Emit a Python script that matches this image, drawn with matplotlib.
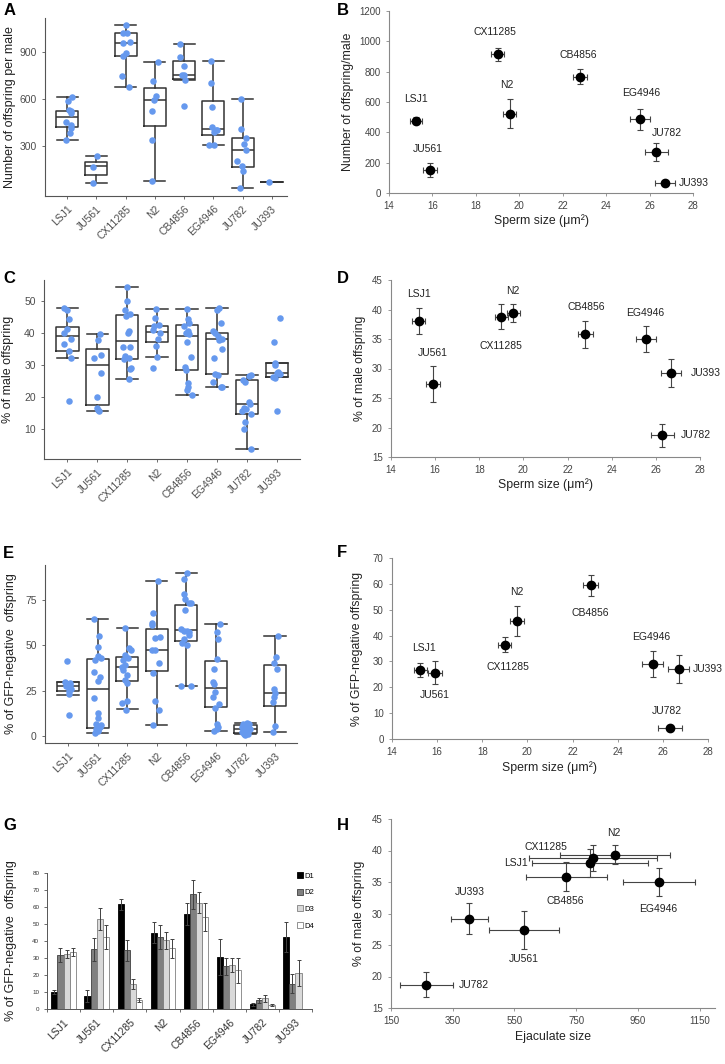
import matplotlib
matplotlib.use("Agg")
import matplotlib.pyplot as plt
import numpy as np

plt.rcParams['font.family'] = ['Liberation Sans', 'DejaVu Sans']

W, H = 725, 1064
strains = ["LSJ1", "JU561", "CX11285", "N2", "CB4856", "EG4946", "JU782", "JU393"]

# ---------------- Panel A: offspring per male (box: whislo, q1, med, q3, whishi) -------------
A_box = [(337, 418, 482, 525, 611), (63, 114, 170, 198, 234), (675, 872, 956, 1018, 1071),
         (78, 427, 592, 667, 836), (720, 729, 754, 840, 947), (307, 369, 410, 587, 840),
         (31, 168, 273, 348, 596), (69, 69, 69, 69, 69)]
A_pts = [[611, 587, 529, 521, 508, 455, 431, 412, 384, 337],
         [234, 166, 65],
         [1069, 1022, 1018, 964, 956, 891, 874, 748, 673],
         [836, 712, 620, 594, 519, 337, 76],
         [947, 866, 812, 754, 750, 722, 553],
         [840, 701, 545, 418, 401, 401, 386, 307, 307],
         [596, 408, 348, 311, 273, 206, 174, 140, 31],
         [69]]
A_jit = [[13, 1, 5, 11, 11, -4, 10, 10, 8, -5], [1, -10, -10],
         [1, -9, 3, 13, -9, 1, -9, -11, 11], [10, -5, 2, -2, -8, -8, -8],
         [-13, -11, -1, -7, -1, 3, 1], [-8, -8, -3, -3, 7, 12, 3, -13, 3],
         [-5, -6, 10, 4, 10, -16, -1, 0, -9], [-7]]

# ---------------- Panel C: % male offspring -------------
C_box = [(32.2, 34.2, 38.9, 41.9, 47.9), (15.6, 17.4, 29.8, 35.1, 39.6), (25.5, 31.9, 37.6, 45.7, 54.4),
         (32.4, 37.1, 40.2, 42.2, 47.3), (20.7, 28.3, 39.1, 42.5, 47.4), (23.1, 27.0, 38.1, 39.8, 47.9),
         (3.6, 14.6, 17.9, 25.2, 26.9), (26.1, 26.1, 27.5, 30.7, 30.7)]
C_pts = [[47.9, 47.2, 44.3, 41.2, 39.8, 38.2, 36.5, 34.2, 32.2, 18.8],
         [39.6, 37.9, 33.2, 32.0, 27.4, 20.0, 16.4, 15.9, 15.7],
         [54.4, 49.9, 47.1, 45.8, 45.3, 40.5, 40.0, 35.7, 35.7, 32.8, 32.0, 31.7, 28.9, 28.6, 25.5],
         [47.3, 44.7, 42.4, 42.0, 40.9, 40.1, 38.1, 35.9, 32.3, 29.0],
         [47.4, 44.2, 43.1, 42.2, 40.5, 40.0, 39.5, 37.2, 32.5, 29.2, 28.4, 24.4, 23.2, 22.2, 20.7],
         [47.9, 47.0, 43.0, 40.5, 39.9, 38.9, 38.2, 37.7, 35.1, 32.0, 27.1, 26.8, 24.5, 23.2, 23.1],
         [26.9, 26.5, 25.3, 24.5, 18.4, 17.7, 16.6, 16.2, 15.5, 14.6, 12.3, 10.1, 3.6],
         [44.6, 37.0, 30.6, 30.0, 27.7, 27.4, 27.2, 26.2, 25.9, 15.6]]
C_jit = [[-10, 0, 6, -2, -9, 10, -9, 6, 10, 6], [8, 1, 10, -10, 10, 0, -2, 3, 6],
         [0, -2, -6, 8, -4, 4, 2, -12, 8, -6, 4, -10, 11, 8, 4],
         [-4, -6, 5, -9, -12, 8, 1, -4, 0, -14],
         [-1, 3, 6, -9, 4, -3, 7, -1, 11, -5, -3, 4, 3, -1, 14],
         [7, -1, 11, -11, -5, 3, 14, 7, 14, -9, -5, 3, -13, 11, 14],
         [12, 7, -11, -5, 7, 9, -10, -4, -15, 12, -6, -9, 12],
         [9, -10, -5, -7, 3, 1, 10, -11, -5, 1]]

# ---------------- Panel E: % GFP-negative offspring -------------
E_box = [(22.6, 25.0, 27.6, 30.0, 30.0), (1.8, 4.8, 26.1, 42.6, 64.5), (14.9, 30.3, 38.1, 43.8, 59.4),
         (6.4, 35.8, 47.4, 58.8, 85.5), (27.8, 52.4, 58.3, 72.2, 90.1), (3.0, 16.2, 26.7, 41.5, 61.8),
         (1.1, 1.8, 4.2, 6.3, 7.4), (2.6, 16.5, 23.7, 39.5, 55.1)]
E_pts = [[41.2, 30.0, 29.1, 28.5, 28.1, 27.6, 26.7, 25.8, 25.0, 23.5, 11.6],
         [64.5, 55.3, 48.9, 44.3, 43.0, 42.0, 35.5, 32.7, 30.7, 21.0, 13.0, 10.0, 6.6, 6.1, 5.0, 4.0, 3.5, 2.9, 2.0],
         [59.4, 48.7, 47.4, 44.7, 43.2, 41.9, 39.5, 38.3, 36.4, 33.8, 30.9, 29.4, 19.5, 18.4, 14.7],
         [85.5, 67.6, 62.5, 61.0, 54.8, 53.9, 47.4, 47.4, 40.1, 35.0, 19.5, 14.3, 6.4],
         [90.1, 86.6, 78.3, 75.4, 73.2, 73.2, 69.5, 59.0, 58.1, 57.8, 57.5, 55.7, 53.3, 51.1, 50.2, 27.8, 27.8],
         [61.8, 57.4, 53.3, 42.5, 37.3, 30.0, 29.0, 24.5, 21.5, 18.0, 15.5, 7.0, 5.0, 4.0, 3.0],
         [7.4, 7.0, 6.5, 6.0, 5.5, 5.0, 4.5, 4.0, 3.5, 3.0, 2.5, 2.0, 1.5, 1.0, 0.8],
         [55.1, 43.8, 40.4, 37.3, 26.3, 23.9, 21.7, 19.1, 5.7, 2.6]]
E_jit = [[-4, -10, 6, 0, 6, -6, 2, 8, 4, 4, 2],
         [-12, 3, 2, 0, 10, -8, -10, 6, 0, -10, 2, 2, -6, 10, 6, -4, 2, 0, -7],
         [-7, 6, 10, -7, 1, -14, -8, -16, -12, 0, -6, 0, 0, -16, -4],
         [5, -10, -15, -13, 10, -5, -15, -5, 7, -11, -5, 7, -10],
         [2, -7, -7, -4, 9, 13, -5, -15, -7, 1, 7, 9, -7, -14, 1, -15, 13],
         [12, 2, 5, 2, -5, -8, -6, -3, -10, 9, -2, 4, 7, 2, -6],
         [3, -8, 10, -3, 6, -12, 1, 12, -6, 8, -10, 4, -4, 6, -1],
         [9, 3, -3, 7, -3, 1, -3, -5, 1, -7]]

# ---------------- Panel G: bars by day -------------
days = ["D1", "D2", "D3", "D4"]
G_mean = [[10.0, 7.5, 61.6, 44.9, 56.1, 30.6, 2.7, 42.5],
          [31.8, 35.1, 34.5, 42.4, 67.6, 25.1, 5.1, 14.9],
          [32.2, 53.1, 14.9, 40.4, 62.5, 26.1, 6.3, 21.4],
          [33.5, 42.5, 5.5, 35.7, 54.1, 22.7, 2.4, 0.0]]
G_err = [[1.2, 3.5, 3.3, 6.1, 6.4, 10.8, 1.0, 8.7],
         [4.3, 6.9, 6.3, 7.2, 8.5, 5.1, 1.6, 5.7],
         [2.4, 6.5, 2.9, 4.9, 6.3, 4.1, 2.0, 7.6],
         [2.3, 7.1, 1.2, 5.5, 8.4, 7.3, 0.8, 0.0]]

# ---------------- Scatter panels -------------
sperm = [15.25, 15.9, 19.0, 19.55, 22.8, 25.55, 26.3, 26.7]
sperm_err = [0.28, 0.32, 0.29, 0.3, 0.33, 0.47, 0.53, 0.45]
off_mean = [476, 150, 914, 524, 768, 486, 269, 64]
off_err = [22, 47, 45, 96, 48, 70, 60, 8]
male_mean = [38.0, 27.35, 38.8, 39.35, 35.8, 35.0, 18.7, 29.2]
male_err = [2.2, 3.0, 2.1, 1.5, 2.3, 2.2, 1.95, 2.4]
gfp_mean = [26.6, 25.7, 36.5, 45.7, 59.4, 29.1, 4.1, 26.9]
gfp_err = [2.6, 4.6, 2.8, 5.8, 4.2, 5.1, 0.5, 5.4]
ejac = [795, 581, 805, 876, 718, 1018, 265, 404]
ejac_err = [187, 115, 207, 177, 132, 116, 85, 60]

fig = plt.figure(figsize=(W / 100, H / 100), dpi=100)
fig.patch.set_facecolor('white')


def add_ax(l, t, r, b):
    return fig.add_axes([l / W, 1 - b / H, (r - l) / W, (b - t) / H])


def set_ylabel_px(ax, text, px, l, r, size):
    ax.set_ylabel(text, fontsize=size, va='center', ha='center', color='#222222')
    ax.yaxis.set_label_coords((px - l) / (r - l), 0.5)


def set_xlabel_px(ax, text, py, t, b, size):
    ax.set_xlabel(text, fontsize=size, va='center', ha='center', color='#222222')
    ax.xaxis.set_label_coords(0.5, 1 - (py - t) / (b - t))


BOXC = '#333333'
PTC = '#6699EE'


def box_panel(rect, box, pts, jit, ylim, xlim, yticks, ylabel, ylabel_px, spacing):
    l, t, r, b = rect
    ax = add_ax(*rect)
    stats = []
    for s in box:
        stats.append(dict(whislo=s[0], q1=s[1], med=s[2], q3=s[3], whishi=s[4]))
    lp = dict(color=BOXC, linewidth=1.1)
    ax.bxp(stats, positions=range(8), widths=0.75, capwidths=0.72, showfliers=False,
           boxprops=lp, whiskerprops=lp, capprops=lp, medianprops=lp, zorder=2)
    for i in range(8):
        xs = [i + j / spacing for j in jit[i]]
        ax.scatter(xs, pts[i], s=22, color=PTC, zorder=3, linewidths=0)
    ax.set_xlim(*xlim)
    ax.set_ylim(*ylim)
    ax.set_yticks(yticks)
    ax.set_xticks(range(8))
    ax.set_xticklabels(strains, rotation=45, ha='right', rotation_mode='anchor', fontsize=7.5,
                       color='#4d4d4d')
    ax.tick_params(axis='y', labelsize=7.5, labelcolor='#4d4d4d', length=2.5, color='#555555', width=0.6)
    ax.tick_params(axis='x', length=2.5, color='#555555', width=0.6, pad=3)
    for sp in ['top', 'right']:
        ax.spines[sp].set_visible(False)
    for sp in ['left', 'bottom']:
        ax.spines[sp].set_color('#555555')
        ax.spines[sp].set_linewidth(0.8)
    set_ylabel_px(ax, ylabel, ylabel_px, l, r, 9)
    return ax


box_panel((45, 18, 287, 196), A_box, A_pts, A_jit, (-20, 1115), (-0.76, 7.52), [300, 600, 900],
          "Number of offspring per male", 10, 88.0)
box_panel((44, 280, 300, 459), C_box, C_pts, C_jit, (0.6, 56.5), (-0.78, 7.77), [10, 20, 30, 40, 50],
          "% of male offspring", 8.5, 89.7)
box_panel((45, 565, 297, 743), E_box, E_pts, E_jit, (-3.7, 94.3), (-0.78, 7.74), [0, 25, 50, 75],
          "% of GFP-negative  offspring", 11, 88.7)


def scatter_panel(rect, x, xe, y, ye, xlim, ylim, xticks, yticks, xlabel, ylabel, ylabel_px, xlabel_py,
                  offsets):
    l, t, r, b = rect
    ax = add_ax(*rect)
    ax.errorbar(x, y, xerr=xe, yerr=ye, fmt='o', color='black', ms=6, ecolor='#444444',
                elinewidth=0.8, capsize=2, capthick=0.8, zorder=3)
    for i, name in enumerate(strains):
        dx, dy = offsets[i]
        ax.annotate(name, (x[i], y[i]), xytext=(dx, dy), textcoords='offset pixels',
                    ha='center', va='center', fontsize=7.5, color='#222222')
    ax.set_xlim(*xlim)
    ax.set_ylim(*ylim)
    ax.set_xticks(xticks)
    ax.set_yticks(yticks)
    ax.tick_params(labelsize=7, labelcolor='#444444', length=2.5, color='#888888', width=0.6)
    for sp in ['top', 'right']:
        ax.spines[sp].set_visible(False)
    for sp in ['left', 'bottom']:
        ax.spines[sp].set_color('#888888')
        ax.spines[sp].set_linewidth(0.8)
    set_ylabel_px(ax, ylabel, ylabel_px, l, r, 8.8)
    set_xlabel_px(ax, xlabel, xlabel_py, t, b, 8.8)
    return ax


sperm_lbl = "Sperm size (\u03bcm\u00b2)"
scatter_panel((389, 11, 693, 193), sperm, sperm_err, off_mean, off_err, (14, 28), (0, 1200),
              range(14, 29, 2), range(0, 1201, 200), sperm_lbl, "Number of offspring/male", 348, 221,
              [(0, 22), (-2, 21), (-3, 22), (-3, 29), (-2, 22), (1, 26), (11, 19), (29, 0)])
scatter_panel((391, 280, 700, 457), sperm, sperm_err, male_mean, male_err, (14, 28), (15, 45),
              range(14, 29, 2), range(15, 46, 5), sperm_lbl, "% of male offspring", 360, 485,
              [(0, 27), (0, 31), (0, -29), (-1, 22), (1, 27), (-1, 26), (33, 0), (34, 0)])
scatter_panel((392, 558, 708, 739), sperm, sperm_err, gfp_mean, gfp_err, (14, 28), (0, 70),
              range(14, 29, 2), range(0, 71, 10), sperm_lbl, "% of GFP-negative offspring", 357.5, 768,
              [(4, 22), (0, -22), (3, -22), (0, 29), (0, -28), (-2, 27), (-3, 17), (29, 0)])
scatter_panel((391, 819, 715, 1008), ejac, ejac_err, male_mean, male_err, (150, 1200), (15, 45),
              range(150, 1151, 200), range(15, 46, 5), "Ejaculate size", "% of male offspring", 359, 1037,
              [(-74, 0), (0, -29), (-47, 11), (-1, 22), (-1, -24), (-1, -27), (47, 0), (0, 27)])

# ---------------- Panel G -------------
gl, gt, gr, gb = 47, 873, 312, 1009
axg = add_ax(gl, gt, gr, gb)
fills = ['#000000', '#808080', '#d9d9d9', '#ffffff']
edges = ['#000000', '#404040', '#808080', '#808080']
bw = 0.185
xc = np.arange(8)
for d in range(4):
    xs = xc + (d - 1.5) * bw
    m = np.array(G_mean[d])
    e = np.array(G_err[d])
    keep = m > 0
    axg.bar(xs[keep], m[keep], width=bw, color=fills[d], edgecolor=edges[d], linewidth=0.6,
            label=days[d], zorder=2)
    axg.errorbar(xs[keep], m[keep], yerr=e[keep], fmt='none', ecolor='#404040', elinewidth=0.7,
                 capsize=1.6, capthick=0.7, zorder=3)
axg.set_xlim(-0.5, 7.5)
axg.set_ylim(0, 80)
axg.set_yticks(range(0, 81, 10))
axg.set_xticks(xc)
axg.set_xticks(np.arange(-0.5, 7.6, 1), minor=True)
axg.set_xticklabels(strains, rotation=45, ha='right', rotation_mode='anchor', fontsize=7.5, color='#333333')
axg.tick_params(axis='x', which='major', length=0, pad=6)
axg.tick_params(axis='x', which='minor', length=2.5, width=0.6, color='#555555')
axg.tick_params(axis='y', labelsize=4.5, length=2, width=0.6, color='#555555', labelcolor='#333333')
for sp in ['top', 'right']:
    axg.spines[sp].set_visible(False)
for sp in ['left', 'bottom']:
    axg.spines[sp].set_color('#555555')
    axg.spines[sp].set_linewidth(0.7)
axg.legend(loc='upper left', bbox_to_anchor=((297 - gl) / (gr - gl), 1 - (872 - gt) / (gb - gt)),
           frameon=False, fontsize=5.5, handlelength=0.8, handleheight=0.8, handletextpad=0.2,
           labelspacing=1.2, borderaxespad=0, borderpad=0)
set_ylabel_px(axg, "% of GFP-negative  offspring", 11, gl, gr, 9)

# ---------------- Panel letters -------------
for letter, (px, py) in zip("ABCDEFGH", [(4, 3), (337, 3), (3, 271), (337, 271), (3, 546),
                                          (337, 545), (3, 818), (337, 818)]):
    fig.text(px / W, 1 - py / H, letter, fontsize=12, fontweight='bold', ha='left', va='top')

fig.savefig("out.png", dpi=100)
